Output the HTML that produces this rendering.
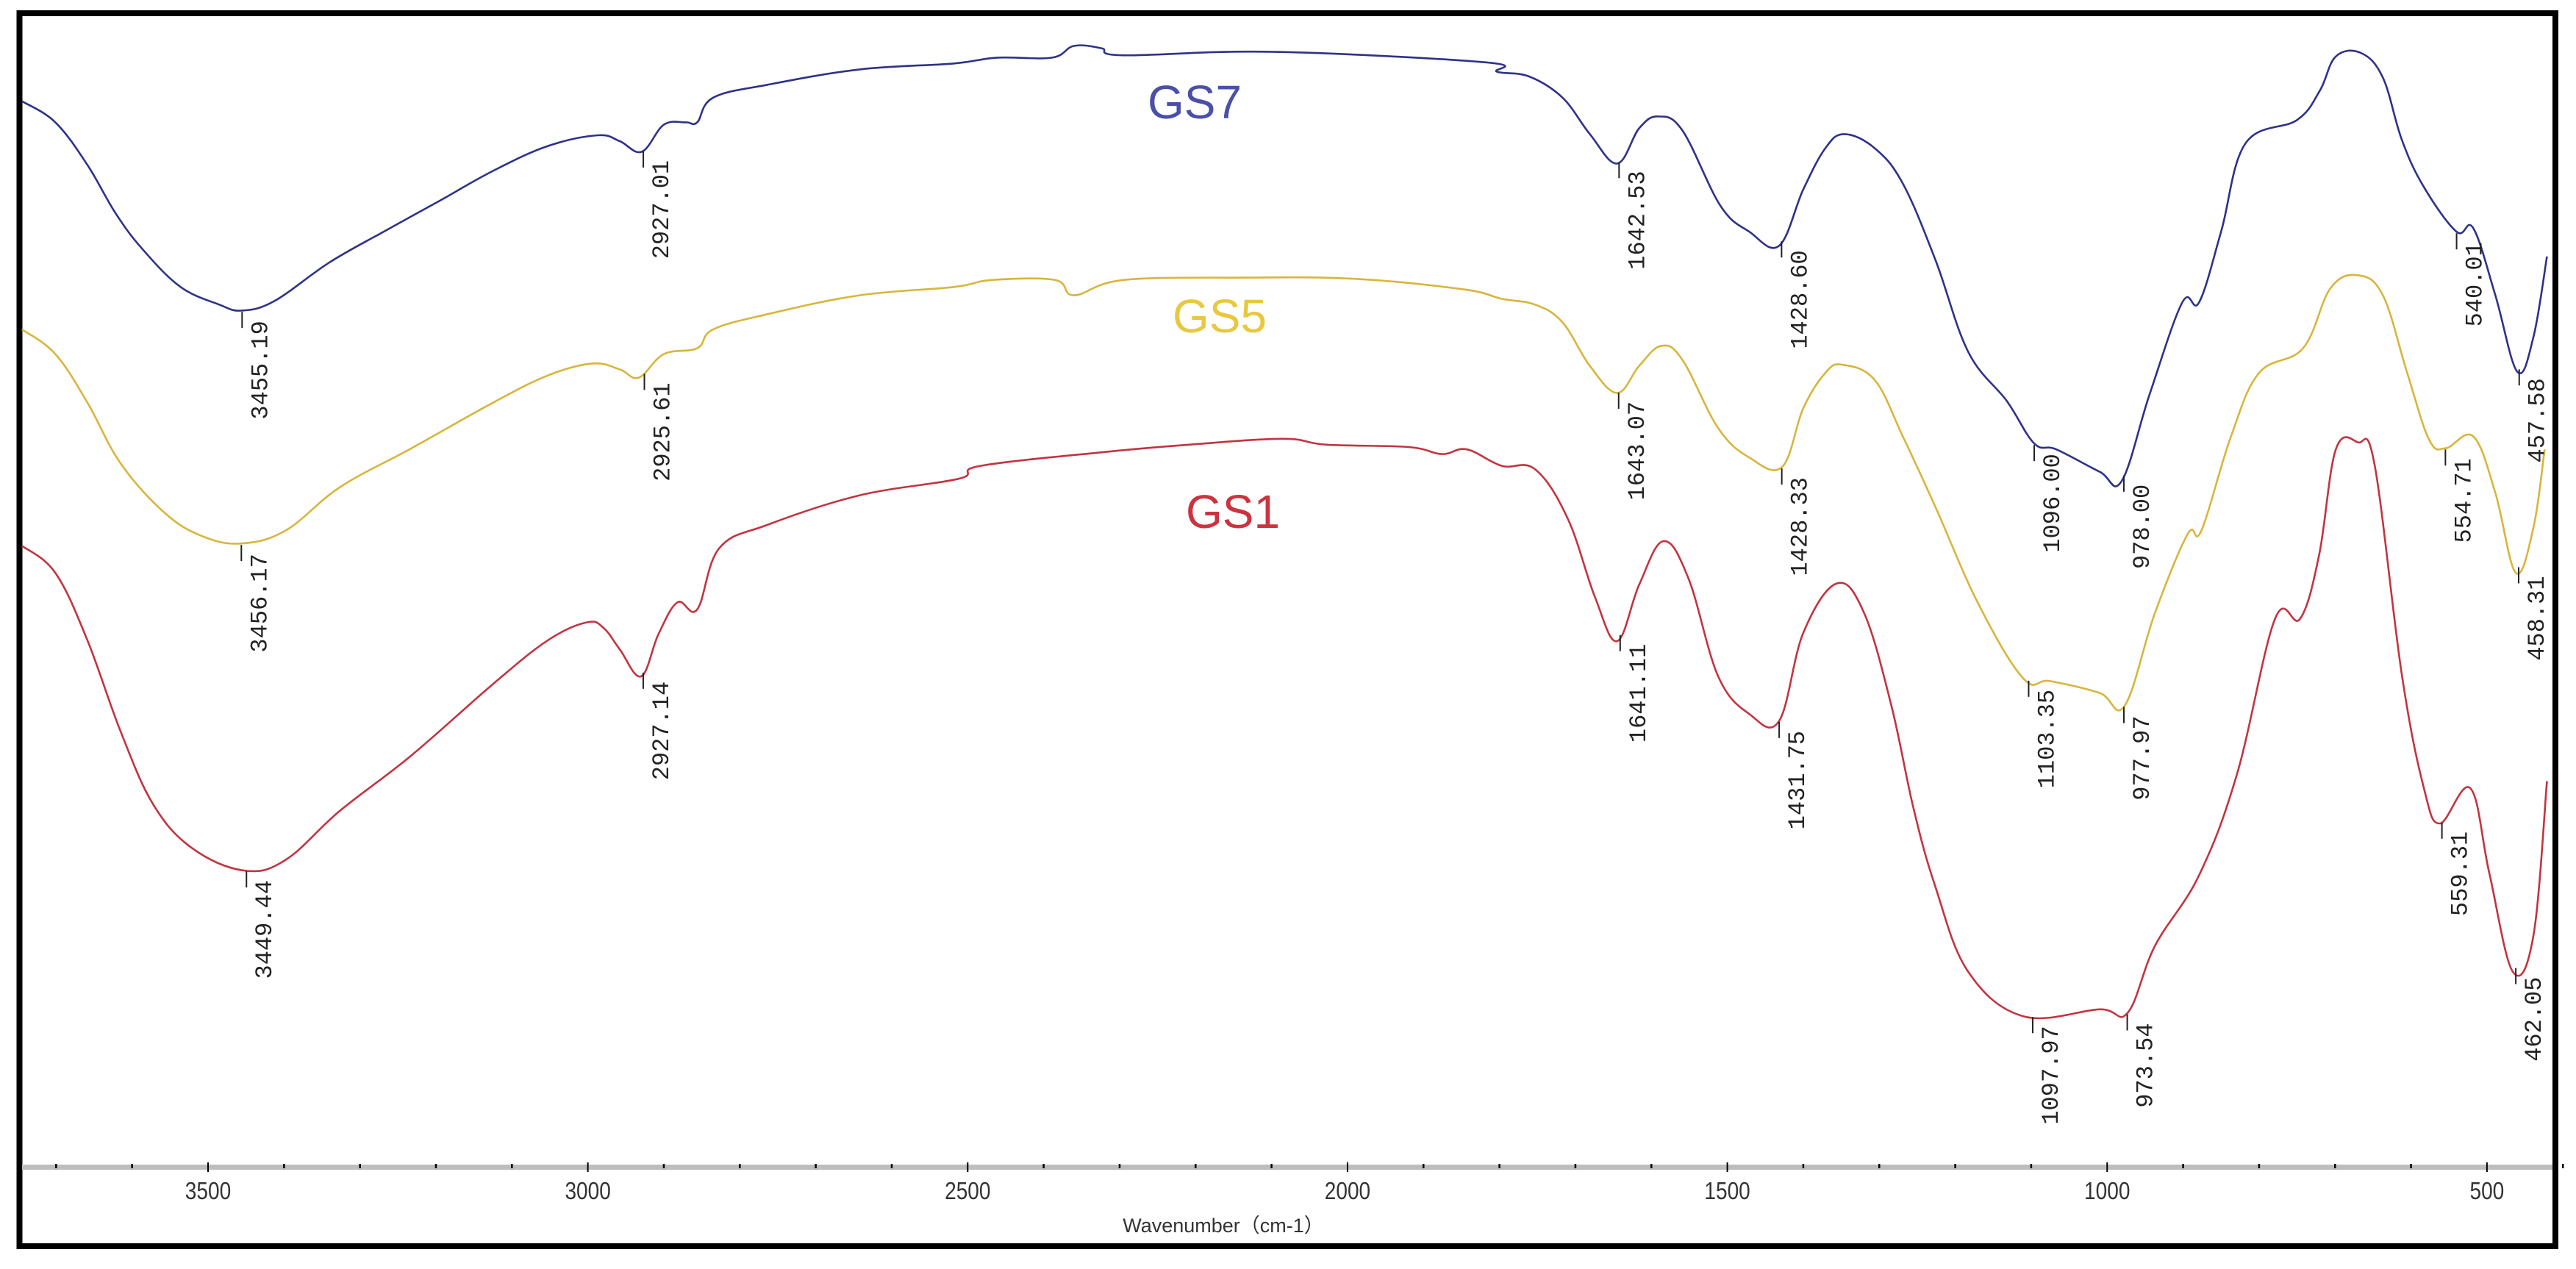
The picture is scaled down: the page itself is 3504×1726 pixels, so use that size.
<!DOCTYPE html>
<html><head><meta charset="utf-8"><style>
html,body{margin:0;padding:0;background:#fff;}
svg{display:block;}
</style></head><body>
<svg id="chart" width="3504" height="1726" viewBox="0 0 3504 1726" xmlns="http://www.w3.org/2000/svg">
<rect x="0" y="0" width="3504" height="1726" fill="#fff"/>
<rect x="26.5" y="18" width="3449.5" height="1677" fill="none" stroke="#000" stroke-width="8"/>
<rect x="30" y="1584" width="3442" height="7" fill="#bdbdbd"/>
<g id="ticks"></g>
<g id="curves"></g>
<g id="peaks"></g>
<text x="1664" y="1676" font-family="Liberation Sans, Noto Sans CJK SC, sans-serif" font-size="27" fill="#333" text-anchor="middle">Wavenumber（cm-1）</text>
<text x="1625" y="161" font-family="Liberation Sans, sans-serif" font-size="64" fill="#4a50a8" text-anchor="middle">GS7</text>
<text x="1659" y="452" font-family="Liberation Sans, sans-serif" font-size="64" fill="#e8c840" text-anchor="middle">GS5</text>
<text x="1677" y="718" font-family="Liberation Sans, sans-serif" font-size="64" fill="#cc3340" text-anchor="middle">GS1</text>
</svg>
<script>
const gs7Wn=[3745,3701,3659,3622,3586,3536,3485,3456,3413,3340,3269,3196,3124,3052,2987,2958,2929,2900,2871,2856,2835,2763,2642,2519,2461,2389,2360,2324,2295,2100,1818,1803,1761,1717,1681,1645,1616,1591,1559,1509,1471,1432,1400,1371,1346,1306,1269,1226,1183,1132,1096,1067,1010,981,944,901,879,850,818,750,720,699,666,637,612,583,540,518,489,460,439,421];
const gs7T=[91.4,89.6,86.0,81.9,78.8,75.6,74.1,73.6,74.4,77.7,80.3,82.9,85.5,87.6,88.5,88.0,87.1,89.4,89.6,89.6,91.7,92.8,94.1,94.6,95.1,95.1,96.1,95.9,95.3,95.6,94.7,93.9,93.5,91.7,88.6,86.1,89.1,90.1,88.9,82.5,80.3,79.1,83.9,87.4,88.6,87.4,84.4,77.9,70.1,65.9,62.3,61.8,59.9,59.1,66.5,74.3,74.3,80.3,87.8,89.8,92.3,95.2,95.5,93.4,88.1,84.1,80.3,80.6,74.9,68.4,71.3,78.2];
const gs5Wn=[3745,3701,3659,3615,3557,3507,3456,3398,3326,3232,3124,3052,2994,2958,2933,2900,2856,2835,2763,2642,2519,2468,2385,2360,2295,2136,1991,1847,1797,1753,1717,1681,1645,1616,1587,1559,1512,1471,1428,1400,1371,1349,1306,1269,1226,1169,1110,1075,1010,977,937,894,876,837,800,742,706,670,637,605,576,554,518,489,462,439,424];
const gs5T=[72.0,69.9,65.8,60.6,56.4,54.4,53.8,54.9,58.6,61.9,65.8,68.1,69.1,68.6,67.9,69.9,70.4,72.0,73.3,74.9,75.6,76.2,76.2,74.9,76.2,76.4,76.3,75.4,74.6,74.1,72.6,68.9,66.6,68.9,70.6,69.4,63.6,61.1,60.3,65.3,68.3,69.0,67.7,62.9,56.9,48.6,42.3,42.1,41.1,40.0,47.9,54.6,54.9,62.9,68.3,70.4,75.5,76.6,74.9,68.3,62.6,61.9,62.9,58.1,51.3,55.1,61.8];
const gs1Wn=[3745,3701,3659,3615,3572,3521,3453,3398,3326,3232,3124,3052,3001,2979,2958,2930,2907,2882,2856,2827,2763,2642,2512,2483,2316,2208,2085,2028,1920,1876,1843,1797,1753,1710,1674,1645,1616,1584,1551,1512,1471,1432,1400,1356,1320,1284,1255,1226,1183,1110,1010,973,937,879,829,779,746,721,699,670,648,612,583,562,522,497,466,439,421];
const gs1T=[53.6,51.3,45.6,37.8,31.6,27.9,26.0,26.9,31.1,35.8,41.9,45.6,47.1,46.6,44.8,42.5,46.1,48.8,48.2,53.4,55.4,57.9,59.3,60.4,61.6,62.2,62.7,62.2,62.0,61.4,61.8,60.4,60.1,55.9,49.2,45.5,50.3,54.0,50.8,42.5,39.3,38.7,46.2,50.4,47.9,40.0,31.3,24.6,17.4,13.6,14.2,13.9,19.6,25.6,34.2,47.4,47.4,52.8,61.8,62.4,60.5,42.6,33.0,30.0,33.0,25.8,17.4,20.4,33.6];
const tickLabels=[3500,3000,2500,2000,1500,1000,500];
const gs7Peaks=[3455.19,2927.01,1642.53,1428.60,1096.00,978.00,540.01,457.58];
const gs5Peaks=[3456.17,2925.61,1643.07,1428.33,1103.35,977.97,554.71,458.31];
const gs1Peaks=[3449.44,2927.14,1641.11,1431.75,1097.97,973.54,559.31,462.05];

const NS='http://www.w3.org/2000/svg';
function xs(v){return 283+(3500-v)*1.0333;}
function ys(t){return 16*(100-t);}
function interp(wn,tv,v){
  for(let i=0;i<wn.length-1;i++){
    if(v<=wn[i]&&v>=wn[i+1]){const f=(wn[i]-v)/(wn[i]-wn[i+1]);return tv[i]+f*(tv[i+1]-tv[i]);}
  }
  return tv[tv.length-1];
}
function smoothPath(pts){
  let d='M'+pts[0][0].toFixed(1)+','+pts[0][1].toFixed(1);
  for(let i=0;i<pts.length-1;i++){
    const p0=pts[Math.max(0,i-1)],p1=pts[i],p2=pts[i+1],p3=pts[Math.min(pts.length-1,i+2)];
    const k=0.18;
    const c1x=p1[0]+(p2[0]-p0[0])*k,c1y=p1[1]+(p2[1]-p0[1])*k;
    const c2x=p2[0]-(p3[0]-p1[0])*k,c2y=p2[1]-(p3[1]-p1[1])*k;
    d+='C'+c1x.toFixed(1)+','+c1y.toFixed(1)+' '+c2x.toFixed(1)+','+c2y.toFixed(1)+' '+p2[0].toFixed(1)+','+p2[1].toFixed(1);
  }
  return d;
}
const tg=document.getElementById('ticks');
for(let v=3700;v>=400;v-=100){
  const major=v%500===0;
  const l=document.createElementNS(NS,'line');
  l.setAttribute('x1',xs(v));l.setAttribute('x2',xs(v));
  l.setAttribute('y1',major?1581:1583);l.setAttribute('y2',major?1594:1589);
  l.setAttribute('stroke','#000');l.setAttribute('stroke-width',major?2:2.5);
  
  
  tg.appendChild(l);
}
tickLabels.forEach(v=>{
  const t=document.createElementNS(NS,'text');
  t.setAttribute('x',xs(v));t.setAttribute('y',1631);
  t.setAttribute('text-anchor','middle');t.setAttribute('font-size','33');
  t.setAttribute('font-family','Liberation Sans, sans-serif');t.setAttribute('fill','#333');
  t.setAttribute('transform','translate('+xs(v)+',0) scale(0.85,1) translate('+(-xs(v))+',0)');
  t.textContent=v;
  
  
  tg.appendChild(t);
});
const series=[[gs7Wn,gs7T,'#2e3288','gs7',gs7Peaks],[gs5Wn,gs5T,'#d8b53c','gs5',gs5Peaks],[gs1Wn,gs1T,'#c23440','gs1',gs1Peaks]];
const cg=document.getElementById('curves'),pg=document.getElementById('peaks');
series.forEach(s=>{
  const [wn,tv,col,name,peaks]=s;
  const pts=wn.map((v,i)=>[xs(v),ys(tv[i])]);
  const p=document.createElementNS(NS,'path');
  p.setAttribute('d',smoothPath(pts));p.setAttribute('fill','none');p.setAttribute('stroke',col);
  p.setAttribute('stroke-width','2.6');p.setAttribute('stroke-linejoin','round');
  
  
  cg.appendChild(p);
  peaks.forEach(pk=>{
    const x=xs(pk),y=ys(interp(wn,tv,pk));
    const l=document.createElementNS(NS,'line');
    l.setAttribute('x1',x);l.setAttribute('x2',x);l.setAttribute('y1',y+2);l.setAttribute('y2',y+24);
    l.setAttribute('stroke','#222');l.setAttribute('stroke-width','2');
    
    
    pg.appendChild(l);
    const t=document.createElementNS(NS,'text');
    t.setAttribute('transform','translate('+(x+34)+','+(y+14)+') rotate(-90)');
    t.setAttribute('text-anchor','end');t.setAttribute('font-size','32');
    t.setAttribute('font-family','Liberation Mono, monospace');t.setAttribute('fill','#222');
    t.textContent=pk.toFixed(2);
    
    
    pg.appendChild(t);
  });
});
</script>
</body></html>
